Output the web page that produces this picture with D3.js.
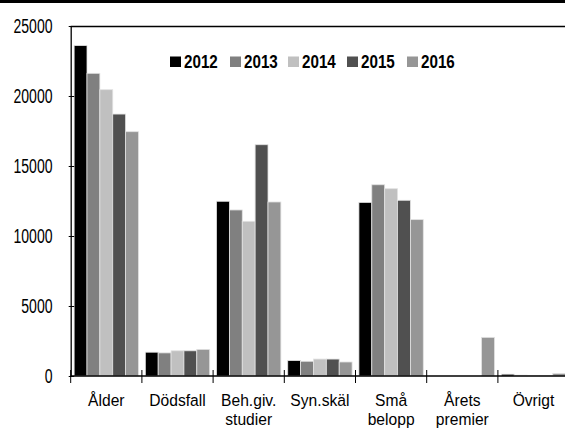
<!DOCTYPE html>
<html><head><meta charset="utf-8">
<script src="https://cdn.jsdelivr.net/npm/d3@7"></script>
<style>body{margin:0;background:#fff}svg{display:block}</style>
</head><body>
<svg id="c" width="565" height="429"></svg>
<script>
const categories = [["Ålder"],["Dödsfall"],["Beh.giv.","studier"],["Syn.skäl"],["Små","belopp"],["Årets","premier"],["Övrigt"]];
const years = ["2012","2013","2014","2015","2016"];
const colors = ["#000000","#808080","#c0c0c0","#505050","#969696"];
const v2012 = [23600, 1700, 12480, 1100, 12400, 0, 130];
const v2013 = [21620, 1650, 11860, 1050, 13660, 0, 60];
const v2014 = [20450, 1800, 11050, 1210, 13380, 0, 30];
const v2015 = [18710, 1800, 16520, 1210, 12550, 0, 40];
const v2016 = [17450, 1900, 12430, 1000, 11170, 2760, 180];
const series = [v2012, v2013, v2014, v2015, v2016];
const yTicks = [0, 5000, 10000, 15000, 20000, 25000];

(function(){
const font = "'Liberation Sans',Arial,sans-serif";
const svg = d3.select("#c");
const pLeft = 70.7, step = 71.2, pTop = 26, pBottom = 376;

svg.append("rect").attr("x",0).attr("y",0).attr("width",565).attr("height",3).attr("fill","#000");

const x0 = d3.scaleBand().domain(d3.range(categories.length)).range([pLeft, pLeft + step*categories.length]).padding(0);
const x1 = d3.scaleBand().domain(years).range([0, x0.bandwidth()]).paddingInner(0).paddingOuter(0.266);
const y = d3.scaleLinear().domain([0, 25000]).range([pBottom, pTop]);

series.forEach((vals, si) => {
  svg.append("g").selectAll("rect").data(vals).join("rect")
    .attr("x", (d,i) => x0(i) + x1(years[si]))
    .attr("y", d => y(d))
    .attr("width", x1.bandwidth())
    .attr("height", d => pBottom - y(d))
    .attr("fill", colors[si])
    .attr("stroke", d => d > 0 ? "#e2e2e2" : "none")
    .attr("stroke-width", 0.8);
});

svg.append("line").attr("x1",pLeft).attr("x2",565).attr("y1",pTop+0.5).attr("y2",pTop+0.5).attr("stroke","#000").attr("stroke-width",1.3);

// y axis
const yAxis = d3.axisLeft(y).tickValues(yTicks).tickSize(0).tickFormat("");
const gy = svg.append("g").attr("transform",`translate(${pLeft},0)`).call(yAxis);
gy.select(".domain").attr("stroke","#000").attr("stroke-width",1.3);
gy.selectAll(".tick text").remove();
gy.selectAll(".tick").append("line").attr("x1",-2).attr("x2",3.5).attr("stroke","#000").attr("stroke-width",1);
svg.append("g").selectAll("text").data(yTicks).join("text")
  .attr("transform", d => `translate(52.5,${y(d)+7}) scale(0.72,1)`)
  .attr("text-anchor","end").attr("font-family",font).attr("font-size",19.5).attr("fill","#000")
  .text(d3.format("d"));

// x axis
const boundaries = d3.range(categories.length + 1).map(i => pLeft + i*step);
svg.append("line").attr("x1",pLeft).attr("x2",565).attr("y1",pBottom).attr("y2",pBottom).attr("stroke","#000").attr("stroke-width",1.3);
svg.append("g").selectAll("line").data(boundaries).join("line")
  .attr("x1",d=>d).attr("x2",d=>d).attr("y1",pBottom-6).attr("y2",pBottom+7)
  .attr("stroke","#000").attr("stroke-width",1);

const xl = svg.append("g").selectAll("text").data(categories).join("text")
  .attr("font-family",font).attr("font-size",17).attr("text-anchor","middle").attr("fill","#000")
  .attr("transform",(d,i)=>`translate(${x0(i)+x0.bandwidth()/2},405.5) scale(0.92,1)`);
xl.each(function(d){
  const t = d3.select(this);
  d.forEach((line,k)=>t.append("tspan").attr("x",0).attr("dy",k===0?0:19.6).text(line));
});

// legend
const legX = [170, 230, 288, 347, 407];
const lg = svg.append("g").selectAll("g").data(years).join("g").attr("transform",(d,i)=>`translate(${legX[i]},56.5)`);
lg.append("rect").attr("width",11).attr("height",10.5).attr("fill",(d,i)=>colors[i]);
lg.append("text").attr("transform",`translate(14,11) scale(0.8,1)`).attr("font-family",font).attr("font-weight","bold").attr("font-size",19).attr("fill","#000").text(d=>d);
})();
</script>
</body></html>
